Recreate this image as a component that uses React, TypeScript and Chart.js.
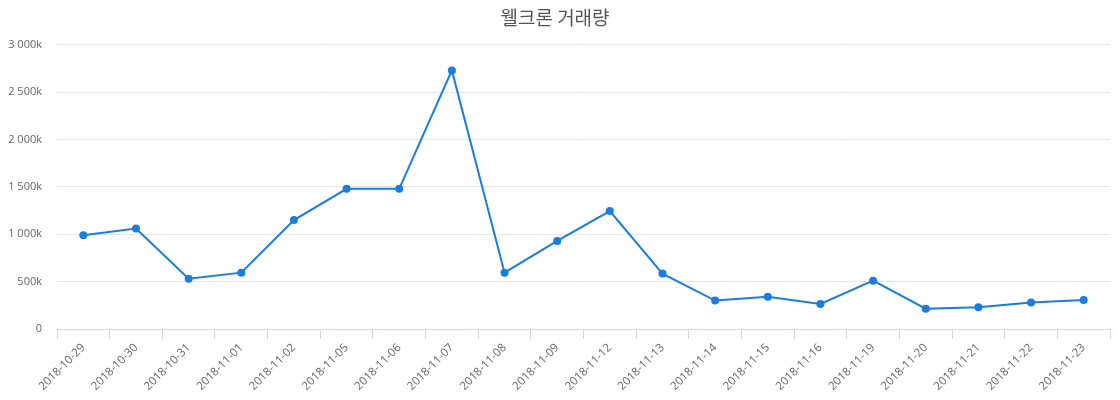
import { Chart, registerables } from 'chart.js';
import { useEffect, useRef } from 'react';

Chart.register(...registerables);

const dates = [
  '2018-10-29', '2018-10-30', '2018-10-31', '2018-11-01', '2018-11-02',
  '2018-11-05', '2018-11-06', '2018-11-07', '2018-11-08', '2018-11-09',
  '2018-11-12', '2018-11-13', '2018-11-14', '2018-11-15', '2018-11-16',
  '2018-11-19', '2018-11-20', '2018-11-21', '2018-11-22', '2018-11-23',
];

const volumes = [
  990000, 1060000, 530000, 595000, 1150000,
  1480000, 1480000, 2730000, 595000, 930000,
  1245000, 585000, 300000, 340000, 265000,
  510000, 215000, 230000, 280000, 305000,
];

const title = '웰크론 거래량';
const lineColor = '#1a7de0';

const formatK = (v: number) => {
  if (v === 0) return '0';
  const k = Math.round(v / 1000);
  if (k >= 1000) return `${Math.floor(k / 1000)} ${String(k % 1000).padStart(3, '0')}k`;
  return `${k}k`;
};

export default function App() {
  const canvasRef = useRef<HTMLCanvasElement>(null);

  useEffect(() => {
    if (!canvasRef.current) return;
    const chart = new Chart(canvasRef.current, {
      type: 'line',
      data: {
        labels: dates,
        datasets: [
          {
            label: title,
            data: volumes,
            borderColor: lineColor,
            backgroundColor: lineColor,
            borderWidth: 2,
            pointRadius: 4,
            pointBorderWidth: 0,
            pointBackgroundColor: lineColor,
            tension: 0,
          },
        ],
      },
      options: {
        animation: false,
        responsive: true,
        maintainAspectRatio: false,
        layout: { padding: { left: 0, right: 10, top: 0, bottom: 0 } },
        plugins: {
          legend: { display: false },
          tooltip: { enabled: false },
          title: {
            display: true,
            text: title,
            color: '#555',
            font: { family: '"Noto Sans CJK KR", "Open Sans", sans-serif', size: 19, weight: 'normal' },
            padding: { top: 6, bottom: 16 },
          },
        },
        scales: {
          x: {
            offset: true,
            grid: {
              offset: true,
              drawOnChartArea: false,
              drawTicks: true,
              tickLength: 10,
              color: '#ccd6eb',
            },
            border: { color: '#ccd6eb', width: 1 },
            ticks: {
              color: '#666',
              font: { family: '"Open Sans", sans-serif', size: 11.5 },
              minRotation: 45,
              maxRotation: 45,
              autoSkip: false,
              padding: 2,
            },
            afterFit: (scale) => {
              scale.height = 71;
            },
          },
          y: {
            min: 0,
            max: 3000000,
            grid: { color: '#e6e6e6', drawTicks: false },
            border: { display: false },
            ticks: {
              stepSize: 500000,
              color: '#666',
              font: { family: '"Open Sans", sans-serif', size: 11 },
              padding: 15,
              callback: (v) => formatK(Number(v)),
            },
            afterFit: (scale) => {
              scale.width = 57;
            },
          },
        },
      },
    });
    return () => chart.destroy();
  }, []);

  return (
    <div style={{ position: 'fixed', left: 0, top: 0, width: 1120, height: 400, background: '#fff' }}>
      <canvas ref={canvasRef} />
    </div>
  );
}
